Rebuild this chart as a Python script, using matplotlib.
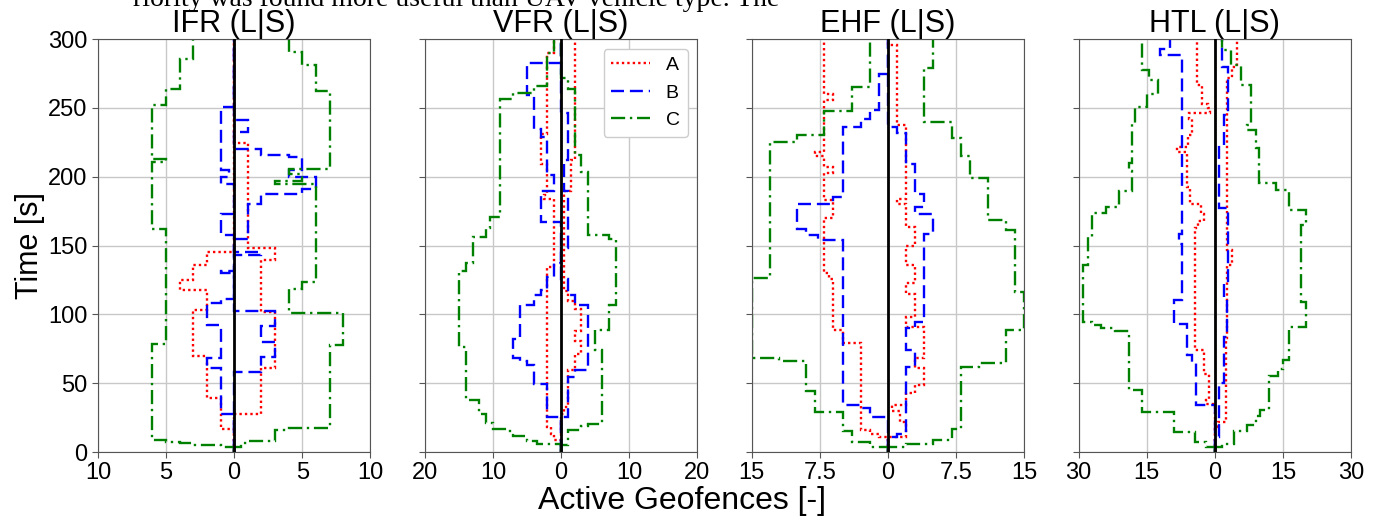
import numpy as np
import matplotlib
matplotlib.use('Agg')
import matplotlib.pyplot as plt

plt.rcParams['font.family'] = ['Liberation Sans', 'DejaVu Sans']

titles = ['IFR (L|S)', 'VFR (L|S)', 'EHF (L|S)', 'HTL (L|S)']
xlims = [10, 20, 15, 30]
xticks = [[-10, -5, 0, 5, 10], [-20, -10, 0, 10, 20], [-15, -7.5, 0, 7.5, 15], [-30, -15, 0, 15, 30]]
xticklabels = [['10', '5', '0', '5', '10'], ['20', '10', '0', '10', '20'],
               ['15', '7.5', '0', '7.5', '15'], ['30', '15', '0', '15', '30']]
yticks = [0, 50, 100, 150, 200, 250, 300]
series = ['A', 'B', 'C']

# time edges [s] and active geofence counts, L = left side, S = right side
ifr_a_l_t = [0, 17, 39, 70, 103, 117.6, 125, 136, 145.5, 300]
ifr_a_l_n = [0, 1, 2, 3, 2, 4, 3, 2, 0]
ifr_a_s_t = [0, 27.6, 61.2, 101.9, 139.4, 148, 224.2, 300]
ifr_a_s_n = [0, 2, 3, 2, 3, 1, 0]
ifr_b_l_t = [0, 28, 61, 68, 92, 108, 111, 130, 131.5, 157.6, 173.3, 194.4, 200, 204.8, 250.8, 300]
ifr_b_l_n = [0, 1, 2, 1, 2, 1, 0, 1, 0, 1, 0, 1, 0.4, 1, 0]
ifr_b_s_t = [0, 58.3, 68.8, 80, 91.5, 102.6, 143, 145.5, 155, 180.5, 187.8, 191.3, 199.8, 204.8,
             214.3, 215.7, 220.5, 232.6, 241, 300]
ifr_b_s_n = [0, 2, 3, 2, 3, 0, 2, 0, 1, 2, 5, 6, 4, 5, 4, 2, 0, 1, 0]
ifr_c_l_t = [0, 3.9, 5.1, 6.3, 7.5, 8.7, 78.3, 162.1, 211, 213, 251.8, 263.9, 285.9, 300]
ifr_c_l_n = [0, 1, 3, 4, 5, 6, 5, 6, 5, 6, 5, 4, 3]
ifr_c_s_t = [0, 3.9, 6.7, 8, 16, 17.2, 77.5, 101, 118.5, 123.7, 195, 197, 202, 206, 262.4, 281.1, 290.8, 300]
ifr_c_s_n = [0, 0.5, 1, 3, 4, 7, 8, 4, 5, 6, 3, 5, 4, 7, 6, 5, 4]

vfr_a_l_t = [0, 8.5, 13, 18.2, 134.5, 184, 187, 209.6, 231.4, 289.6, 300]
vfr_a_l_n = [0, 1, 1.5, 2, 1, 2.5, 2, 3, 2, 1]
vfr_a_s_t = [0, 28, 32.7, 59.4, 71, 81, 88, 104, 110, 117, 190, 212, 300]
vfr_a_s_n = [0, 0.5, 1, 2, 3, 2, 3, 2, 1, 0.4, 1.5, 2]
vfr_b_l_t = [0, 25.4, 49.7, 63, 66, 68, 82.4, 106.6, 114, 118, 127, 137, 167.2, 190, 201, 229, 235,
             259.3, 282.8, 300]
vfr_b_l_n = [0, 2, 4, 5, 6, 7, 6, 4, 3, 2, 1, 0, 3, 1, 2, 3, 4, 5, 0]
vfr_b_s_t = [0, 25.4, 54.5, 59.4, 106.6, 114, 126, 148, 190, 212, 246, 300]
vfr_b_s_n = [0, 1, 2, 4, 2, 1, 0, 1, 0.4, 1, 0]
vfr_c_l_t = [0, 5.6, 8, 12, 15, 17, 21, 28, 37.6, 76.3, 131.6, 137, 156, 163, 171, 256.4, 261, 266, 290, 300]
vfr_c_l_n = [0, 3.5, 5, 7, 8, 10, 11, 12, 14, 15, 14, 13, 11, 10.4, 9, 7, 4, 2, 1]
vfr_c_s_t = [0, 4.8, 15.7, 19, 20.6, 73.9, 88.4, 106.6, 155, 157.5, 203.6, 215.7, 264, 272, 300]
vfr_c_s_n = [0, 1, 3, 4, 6, 5, 7, 8, 7, 4, 3, 2, 1, 0]

ehf_a_l_t = [0, 11, 13, 16, 79, 88.6, 126, 130, 170, 183, 203, 207, 215, 218, 256, 260, 300]
ehf_a_l_n = [0, 1, 2, 3, 5, 6, 6.5, 7, 6, 7, 6, 7, 8, 7, 6, 7]
ehf_a_s_t = [0, 11, 22, 30, 34, 42.6, 48.7, 60.8, 68, 91, 98, 115, 122.5, 135.8, 150, 163.6, 180, 184,
             237.5, 296, 300]
ehf_a_s_n = [0, 2, 1.3, 0.5, 2, 3, 4, 3, 4, 2, 3, 2, 3, 2, 3, 2, 1, 2, 1, 0]
ehf_b_l_t = [0, 25.4, 32, 33.9, 153.9, 158, 162, 180.5, 185.4, 236, 242, 248.4, 275, 300]
ehf_b_l_n = [0, 2, 3, 5, 7.7, 9, 10, 6, 5, 3, 2, 1, 0]
ehf_b_s_t = [0, 10.9, 13.3, 61.8, 73.9, 90, 94.5, 158.7, 173, 178, 187.8, 209.6, 231.5, 236.3, 300]
ehf_b_s_n = [0, 1, 2, 3, 2, 3, 4, 5, 3, 4, 3, 2, 1, 0]
ehf_c_l_t = [0, 3.9, 7.5, 15, 29.3, 44, 66, 68, 126.7, 225.3, 230, 248, 265.3, 300]
ehf_c_l_n = [0, 2, 4, 5, 8, 9, 12, 15, 13, 10, 7, 4, 2]
ehf_c_s_t = [0, 3.9, 6, 8.5, 17, 62, 64.5, 88.6, 116.6, 161, 168.4, 198.8, 215, 228, 240, 278.7, 300]
ehf_c_s_n = [0, 2, 5, 7, 8, 10, 13, 15, 14, 13, 11, 9, 8, 7, 4, 5]

htl_a_l_t = [0, 35, 38, 57, 74, 163, 168, 173, 180, 192.6, 218, 222, 230, 242, 246, 250, 253, 266.5, 300]
htl_a_l_n = [0, 2, 1.3, 2.4, 4.3, 3.7, 2.4, 3, 5.4, 6.1, 8.3, 6, 5, 5.7, 1, 1.5, 2.9, 3.9]
htl_a_s_t = [0, 18, 21.8, 82.6, 135.8, 146.7, 272, 279.8, 300]
htl_a_s_n = [0, 0.6, 2.4, 2.7, 3.8, 2.7, 3.8, 4.9]
htl_b_l_t = [0, 34.4, 65.4, 70.4, 93, 110.4, 151.5, 158.7, 288.3, 293, 300]
htl_b_l_n = [0, 4.1, 5, 6.1, 9, 7.2, 8, 7.2, 12, 9.8]
htl_b_s_t = [0, 11.1, 49.9, 83.8, 112.8, 122.5, 177, 223, 244.7, 280, 300]
htl_b_s_n = [0, 1, 2, 2.7, 2, 3, 0.9, 2, 3, 1.5]
htl_c_l_t = [0, 3.9, 7.5, 14.5, 29.3, 45, 88, 90, 92.5, 94.5, 135.7, 156, 174, 178, 190, 204, 210, 239,
             251, 260.5, 270, 277.4, 300]
htl_c_l_n = [0, 2, 4.3, 9, 16, 19, 22, 25, 27, 29, 28, 27, 24, 21, 18.2, 19, 18.2, 17.5, 15, 12.6, 14.5, 16]
htl_c_s_t = [0, 3.6, 6, 15.6, 20, 26, 30.5, 55, 60, 66.8, 91, 109, 165, 175.7, 190.3, 195.3, 220.8, 234,
             237.5, 266.5, 281, 292, 300]
htl_c_s_n = [0, 1.5, 4.2, 7, 9, 10, 12, 14, 15, 16.4, 20, 19, 20, 16.3, 13.4, 9.7, 9, 7, 7.9, 5.7, 3.5, 1.5]

data = [
    [(ifr_a_l_t, ifr_a_l_n, ifr_a_s_t, ifr_a_s_n), (ifr_b_l_t, ifr_b_l_n, ifr_b_s_t, ifr_b_s_n),
     (ifr_c_l_t, ifr_c_l_n, ifr_c_s_t, ifr_c_s_n)],
    [(vfr_a_l_t, vfr_a_l_n, vfr_a_s_t, vfr_a_s_n), (vfr_b_l_t, vfr_b_l_n, vfr_b_s_t, vfr_b_s_n),
     (vfr_c_l_t, vfr_c_l_n, vfr_c_s_t, vfr_c_s_n)],
    [(ehf_a_l_t, ehf_a_l_n, ehf_a_s_t, ehf_a_s_n), (ehf_b_l_t, ehf_b_l_n, ehf_b_s_t, ehf_b_s_n),
     (ehf_c_l_t, ehf_c_l_n, ehf_c_s_t, ehf_c_s_n)],
    [(htl_a_l_t, htl_a_l_n, htl_a_s_t, htl_a_s_n), (htl_b_l_t, htl_b_l_n, htl_b_s_t, htl_b_s_n),
     (htl_c_l_t, htl_c_l_n, htl_c_s_t, htl_c_s_n)],
]

colors = ['red', 'blue', 'green']
styles = [(0, (1, 1.3)), (0, (5.5, 2.5)), (0, (6, 2, 1, 2))]

fig, axes = plt.subplots(1, 4, sharey=True, figsize=(13.8, 5.22), dpi=100)
fig.subplots_adjust(left=0.071, right=0.979, top=0.925, bottom=0.134, wspace=0.2)

for i, ax in enumerate(axes):
    for j, (lt, ln, st, sn) in enumerate(data[i]):
        ax.stairs(-np.array(ln), lt, orientation='horizontal', baseline=None,
                  color=colors[j], ls=styles[j], lw=1.7, label=series[j])
        ax.stairs(np.array(sn), st, orientation='horizontal', baseline=None,
                  color=colors[j], ls=styles[j], lw=1.7)
    ax.axvline(0, color='black', lw=2, zorder=4)
    ax.set_xlim(-xlims[i], xlims[i])
    ax.set_ylim(0, 300)
    ax.set_xticks(xticks[i])
    ax.set_xticklabels(xticklabels[i])
    ax.set_yticks(yticks)
    ax.grid(True, color='#c8c8c8', lw=1)
    ax.set_axisbelow(True)
    ax.tick_params(labelsize=17, length=4, color='#555555')
    for s in ax.spines.values():
        s.set_color('#555555')
    ax.set_title(titles[i], fontsize=22, pad=3)

axes[0].set_ylabel('Time [s]', fontsize=22, labelpad=2)
axes[1].legend(loc='upper right', fontsize=14, framealpha=1, edgecolor='#cccccc')
fig.text(0.494, 0.04, 'Active Geofences [-]', ha='center', va='center', fontsize=23)
fig.text(133 / 1380, 1 - 6 / 522, 'riority was found more useful than UAV vehicle type. The',
         family='Liberation Serif', fontsize=20, va='baseline')

plt.savefig('out.png')
